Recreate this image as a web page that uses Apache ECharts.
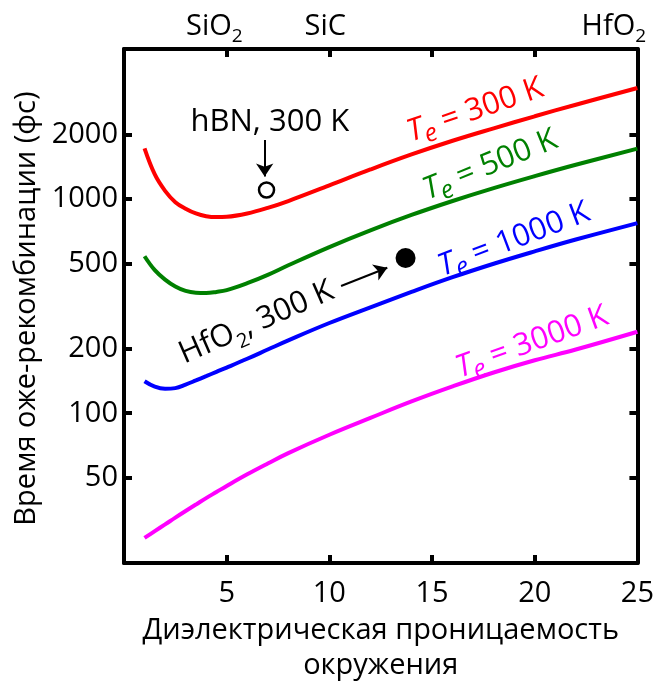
<!DOCTYPE html>
<html><head><meta charset="utf-8">
<script src="https://cdn.jsdelivr.net/npm/echarts@6/dist/echarts.min.js"></script>
<style>html,body{margin:0;padding:0;background:#fff}#c{width:657px;height:688px}</style>
</head><body><div id="c"></div><script>
// ---- data ----
const eps = [1, 1.5, 2, 2.5, 3, 3.5, 4, 4.5, 5, 6, 7, 8, 10, 12, 14, 16, 18, 20, 22, 25];
const tau300K  = [1720, 1300, 1090, 965, 900, 855, 830, 822, 825, 855, 908, 977, 1156, 1371, 1611, 1866, 2133, 2427, 2748, 3289];
const tau500K  = [540, 465, 420, 390, 372, 365, 364, 368, 375, 404, 442, 490, 596, 713, 841, 977, 1122, 1276, 1442, 1714];
const tau1000K = [141, 133, 130, 131, 136, 142.2, 148.9, 156, 163.3, 179.5, 198.2, 218.8, 263.6, 312, 368, 431, 498, 569, 646, 771];
const tau3000K = [26.2, 28.2, 30.3, 32.6, 35.0, 37.5, 40.2, 42.9, 45.8, 51.9, 58.3, 65.2, 79.4, 95.1, 113.5, 133.4, 154.9, 176.6, 198.2, 239.9];
const seriesNames = ['T_e = 300 K', 'T_e = 500 K', 'T_e = 1000 K', 'T_e = 3000 K'];
const seriesColors = ['#ff0000', '#008000', '#0000ff', '#ff00ff'];
const hbnPoint = [6.94, 1100];
const hfo2Point = [13.71, 530];
const yTicks = [50, 100, 200, 500, 1000, 2000];
const yMin = 20, yMax = 5000;
const xTickLabels = [5, 10, 15, 20, 25];
const topNames = ['SiO2', 'SiC', 'HfO2'];
const topPos = [4.4, 9.8, 23.85];
// annotation anchors (data coords)
const hbnArrow = [[6.85, 1880], [6.85, 1271]];
const hfo2Arrow = [[10.57, 392], [12.82, 477]];
const notes = [
  {text: '{m|hBN, 300 K}', at: [7.1, 2280], angle: 0, color: '#000'},
  {text: '{m|HfO}{s|2}{m|, 300 K}', at: [6.45, 265], angle: 23.6, color: '#000'},
  {text: '{i|T}{si|e}{m| = 300 K}', at: [17.1, 2588], angle: 19, color: seriesColors[0]},
  {text: '{i|T}{si|e}{m| = 500 K}', at: [17.83, 1439], angle: 22, color: seriesColors[1]},
  {text: '{i|T}{si|e}{m| = 1000 K}', at: [18.99, 646], angle: 20.8, color: seriesColors[2]},
  {text: '{i|T}{si|e}{m| = 3000 K}', at: [19.87, 214], angle: 19.8, color: seriesColors[3]}
];

const FONT = 'Open Sans';
const FS = 29;   // axis text
const FA = 31;   // annotation text
const lg = v => Math.log10(v);
const richFor = (color, key, fs) => {
  const c = {}; c[key] = color;
  const lh = Math.round(fs * 1.15);
  return {
    m: Object.assign({fontFamily: FONT, fontSize: fs, lineHeight: lh}, c),
    s: Object.assign({fontFamily: FONT, fontSize: Math.round(fs * 0.64), lineHeight: 4, height: 12, verticalAlign: 'bottom'}, c),
    i: Object.assign({fontFamily: FONT, fontSize: fs, fontStyle: 'italic', lineHeight: lh}, c),
    si: Object.assign({fontFamily: FONT, fontSize: Math.round(fs * 0.8), fontStyle: 'italic', lineHeight: 4, height: 20, verticalAlign: 'bottom'}, c)
  };
};

const chart = echarts.init(document.getElementById('c'), null, {renderer: 'canvas'});
const lineSeries = [tau300K, tau500K, tau1000K, tau3000K].map((arr, k) => ({
  type: 'line', name: seriesNames[k], xAxisIndex: 0, yAxisIndex: 0,
  data: eps.map((x, i) => [x, lg(arr[i])]),
  smooth: 0.4, showSymbol: false, symbol: 'none',
  lineStyle: {color: seriesColors[k], width: 4}, silent: true
}));

const axisLine = {show: true, onZero: false, lineStyle: {color: '#000', width: 4}};
const tick = {inside: true, length: 8, lineStyle: {color: '#000', width: 4}};
const option = {
  animation: false,
  backgroundColor: '#fff',
  grid: {left: 124, right: 17, top: 49, bottom: 123, containLabel: false},
  xAxis: [
    {type: 'value', position: 'bottom', min: 0, max: 25, interval: 5,
     axisLine: axisLine, splitLine: {show: false}, axisTick: tick,
     axisLabel: {fontFamily: FONT, fontSize: FS, color: '#000', margin: 16, customValues: xTickLabels},
     name: 'Диэлектрическая проницаемость\nокружения', nameLocation: 'middle', nameGap: 45,
     nameTextStyle: {fontFamily: FONT, fontSize: FS, color: '#000', lineHeight: 35, verticalAlign: 'top'}},
    {type: 'value', position: 'top', min: 0, max: 25, interval: 5,
     axisLine: axisLine, splitLine: {show: false}, axisTick: tick,
     axisLabel: {customValues: topPos, margin: 6, rich: richFor('#000', 'color', FS),
       formatter: (v) => {
         const k = topPos.findIndex(p => Math.abs(p - v) < 1e-6);
         const n = topNames[k] || '';
         return n.endsWith('2') ? '{m|' + n.slice(0, -1) + '}{s|2}' : '{m|' + n + '}';
       }}}
  ],
  yAxis: [
    {type: 'value', position: 'left', min: lg(yMin), max: lg(yMax),
     axisLine: axisLine, splitLine: {show: false},
     axisTick: Object.assign({customValues: yTicks.map(lg)}, tick),
     axisLabel: {fontFamily: FONT, fontSize: FS, color: '#000', margin: 6, customValues: yTicks.map(lg),
       formatter: (v) => String(Math.round(Math.pow(10, v)))},
     name: 'Время оже-рекомбинации (фс)', nameLocation: 'middle', nameGap: 80,
     nameTextStyle: {fontFamily: FONT, fontSize: FS, color: '#000', padding: [0, 5, 0, 0]}},
    {type: 'value', position: 'right', min: lg(yMin), max: lg(yMax),
     axisLine: axisLine, splitLine: {show: false},
     axisTick: Object.assign({customValues: yTicks.map(lg)}, tick),
     axisLabel: {show: false}}
  ],
  series: [
    ...lineSeries,
    {type: 'scatter', name: 'hBN', data: [[hbnPoint[0], lg(hbnPoint[1])]], symbol: 'circle', symbolSize: 15,
     itemStyle: {color: '#fff', borderColor: '#000', borderWidth: 2.5, opacity: 1}, silent: true, z: 5,
     markLine: {silent: true, symbol: ['none', 'arrow'], symbolSize: 13, label: {show: false},
       lineStyle: {color: '#000', width: 2, type: 'solid', opacity: 1},
       itemStyle: {color: '#000'},
       data: [[{coord: [hbnArrow[0][0], lg(hbnArrow[0][1])]}, {coord: [hbnArrow[1][0], lg(hbnArrow[1][1])]}],
              [{coord: [hfo2Arrow[0][0], lg(hfo2Arrow[0][1])]}, {coord: [hfo2Arrow[1][0], lg(hfo2Arrow[1][1])]}]]}},
    {type: 'scatter', name: 'HfO2', data: [[hfo2Point[0], lg(hfo2Point[1])]], symbol: 'circle', symbolSize: 20,
     itemStyle: {color: '#000', opacity: 1}, silent: true, z: 5}
  ]
};
chart.setOption(option);

const graphics = notes.map(n => {
  const p = chart.convertToPixel({xAxisIndex: 0, yAxisIndex: 0}, [n.at[0], lg(n.at[1])]);
  return {type: 'text', x: p[0], y: p[1], rotation: n.angle * Math.PI / 180, silent: true, z: 10,
    style: {text: n.text, rich: richFor(n.color, 'fill', FA), fill: n.color, align: 'center', verticalAlign: 'middle'}};
});
chart.setOption({graphic: graphics});
</script></body></html>
